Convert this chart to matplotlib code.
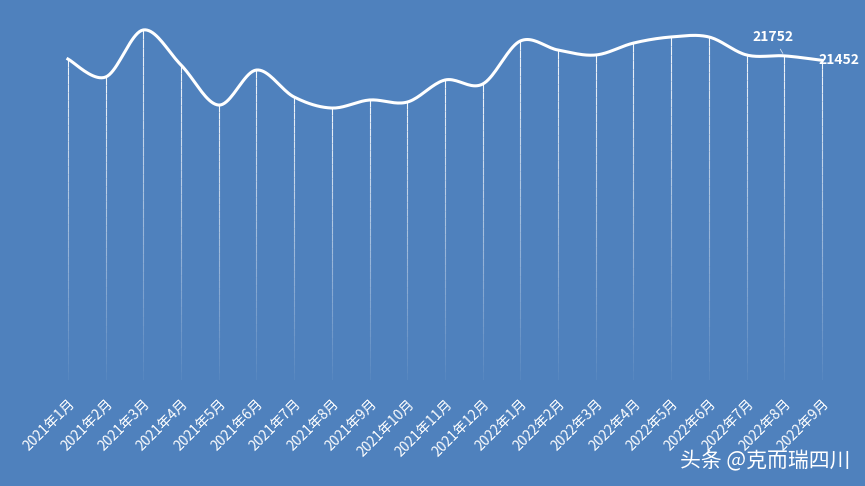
import numpy as np
import matplotlib
matplotlib.use("Agg")
import matplotlib.pyplot as plt

plt.rcParams['font.family'] = ['Noto Sans CJK SC', 'DejaVu Sans']

# 月份与数值
months = ["2021年1月", "2021年2月", "2021年3月", "2021年4月", "2021年5月", "2021年6月",
          "2021年7月", "2021年8月", "2021年9月", "2021年10月", "2021年11月", "2021年12月",
          "2022年1月", "2022年2月", "2022年3月", "2022年4月", "2022年5月", "2022年6月",
          "2022年7月", "2022年8月", "2022年9月"]
values = [21540, 20330, 23490, 21140, 18450, 20800, 18990, 18250, 18790, 18650, 20130,
          19860, 22750, 22140, 21810, 22610, 23020, 23020, 21810, 21752, 21452]
labeled = {19: "21752", 20: "21452"}

BG = "#4f81bd"


def smooth(x, y, n=20):
    # Catmull-Rom 曲线
    px = np.concatenate([[x[0]], x, [x[-1]]])
    py = np.concatenate([[y[0]], y, [y[-1]]])
    xs, ys = [], []
    t = np.linspace(0, 1, n, endpoint=False)
    for i in range(1, len(px) - 2):
        for p, out in ((px, xs), (py, ys)):
            p0, p1, p2, p3 = p[i - 1], p[i], p[i + 1], p[i + 2]
            out.extend(0.5 * (2 * p1 + (-p0 + p2) * t + (2 * p0 - 5 * p1 + 4 * p2 - p3) * t ** 2
                              + (-p0 + 3 * p1 - 3 * p2 + p3) * t ** 3))
    xs.append(x[-1]); ys.append(y[-1])
    return np.array(xs), np.array(ys)


fig = plt.figure(figsize=(8.65, 4.86), dpi=100, facecolor=BG)
ax = fig.add_axes([0, 106 / 486, 1, 380 / 486])
ax.set_facecolor(BG)
x = np.arange(len(values))
ax.set_xlim(-1.80, 21.14)
ax.set_ylim(0, 25500)

# 渐隐垂线
for xi, v in zip(x, values):
    segs = np.linspace(0, v, 40)
    for k in range(len(segs) - 1):
        ax.plot([xi, xi], [segs[k], segs[k + 1]], color="white", lw=0.8,
                alpha=0.05 + 0.9 * k / 39, solid_capstyle="butt")

sx, sy = smooth(x.astype(float), np.array(values, dtype=float))
ax.plot(sx, sy, color="white", lw=2.2)

ax.annotate(labeled[19], (19, values[19]), xytext=(19 - 0.3, values[19] + 1000),
            color="white", fontsize=10, fontweight="bold", ha="center",
            arrowprops=dict(arrowstyle="-", color="#cfdcee", lw=0.6))
ax.text(20 - 0.1, values[20], labeled[20], color="white", fontsize=10,
        fontweight="bold", ha="left", va="center")

ax.set_xticks(x)
ax.set_xticklabels(months, rotation=45, ha="right", rotation_mode="anchor",
                   color="white", fontsize=10)
ax.tick_params(axis="x", length=0, pad=12)
ax.set_yticks([])
for s in ax.spines.values():
    s.set_visible(False)

fig.text(0.983, 0.05, "头条 @克而瑞四川", color="white", fontsize=15, ha="right", va="center")

fig.savefig("out.png", dpi=100, facecolor=BG)
